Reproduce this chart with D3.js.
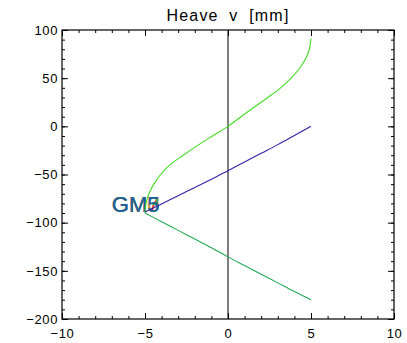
<!DOCTYPE html>
<html>
<head>
<meta charset="utf-8">
<script src="https://cdn.jsdelivr.net/npm/d3@7"></script>
<style>
  body { margin: 0; background: #fff; }
  svg { display: block; }
</style>
</head>
<body>
<div id="chart"></div>
<script>
const width = 407;
const height = 343;
const margin = { top: 30, right: 13, bottom: 24, left: 62 };

const title = 'Heave v [mm]';
const xTicks = [-10, -5, 0, 5, 10];
const yTicks = [-200, -150, -100, -50, 0, 50, 100];

// light green curve (x, y)
const upperX = [-5, -4.94, -4.76, -4.47, -4.06, -3.5, -2.7, -1.85, -0.93, 0, 0.78, 1.58, 2.4, 3.17, 3.8, 4.3, 4.67, 4.9, 5];
const upperY = [-90, -80, -70, -60, -50, -40, -30, -20, -10, 0, 10, 20, 30, 40, 50, 60, 70, 80, 91];

// blue curve
const midX = [-5, -4, -3, -2, -1, 0, 1, 2, 3, 4, 5];
const midY = [-89, -80.5, -72, -63.5, -55, -46, -37, -28, -19, -9.5, 0];

// dark green curve
const lowX = [-5, -4, -3, -2, -1, 0, 1, 2, 3, 4, 5];
const lowY = [-90, -99, -108, -117, -126, -135.5, -144.5, -153.5, -162.5, -171.5, -180];

// overlapped labels
const labels = ['GM0', 'GM7', 'GM3', 'GM5'];
const labelColors = ['#e08a2a', '#e0302a', '#2aa860', '#1f5f9f'];
const labelPos = [-7.0, -89];

const svg = d3.select('#chart').append('svg')
    .attr('width', width)
    .attr('height', height)
    .attr('font-family', 'Liberation Sans, Arial, sans-serif');

const x = d3.scaleLinear().domain([-10, 10]).range([margin.left, width - margin.right]);
const y = d3.scaleLinear().domain([-200, 100]).range([height - margin.bottom, margin.top]);

const x0 = x.range()[0], x1 = x.range()[1];
const y0 = y.range()[0], y1 = y.range()[1];

// zero line
svg.append('line')
    .attr('x1', x(0)).attr('x2', x(0))
    .attr('y1', y1).attr('y2', y0)
    .attr('stroke', '#555').attr('stroke-width', 1.5);

const line = d3.line().x(d => x(d[0])).y(d => y(d[1])).curve(d3.curveMonotoneY);
const lineX = d3.line().x(d => x(d[0])).y(d => y(d[1])).curve(d3.curveMonotoneX);

// labels (drawn under curves)
labels.forEach((t, i) => {
  svg.append('text')
      .attr('x', x(labelPos[0]))
      .attr('y', y(labelPos[1]))
      .attr('font-size', 22)
      .attr('fill', labelColors[i])
      .text(t);
});

svg.append('path')
    .datum(upperX.map((v, i) => [v, upperY[i]]))
    .attr('d', line)
    .attr('fill', 'none').attr('stroke', '#44dd22').attr('stroke-width', 1.1);

svg.append('path')
    .datum(midX.map((v, i) => [v, midY[i]]))
    .attr('d', lineX)
    .attr('fill', 'none').attr('stroke', '#3322aa').attr('stroke-width', 1.1);

svg.append('path')
    .datum(lowX.map((v, i) => [v, lowY[i]]))
    .attr('d', lineX)
    .attr('fill', 'none').attr('stroke', '#22aa55').attr('stroke-width', 1.1);

// axes box
const fmt = d => d < 0 ? '\u2212' + Math.abs(d) : String(d);
const xMinor = d3.range(-10, 11, 1);
const yMinor = d3.range(-200, 101, 10);

svg.append('g').attr('transform', `translate(0,${y0})`)
    .call(d3.axisBottom(x).tickValues(xMinor).tickSize(3).tickFormat(''))
    .call(g => g.select('.domain').remove())
    .call(g => g.selectAll('line').attr('y2', -3));
svg.append('g').attr('transform', `translate(0,${y0})`)
    .call(d3.axisBottom(x).tickValues(xTicks).tickSize(6).tickPadding(0).tickFormat(fmt))
    .call(g => g.select('.domain').remove())
    .call(g => g.selectAll('line').attr('y2', -6))
    .call(g => g.selectAll('text').attr('y', 10).attr('dy', '0.71em')
        .attr('font-size', 13).attr('letter-spacing', 0.6).attr('fill', '#000'));

svg.append('g').attr('transform', `translate(0,${y1})`)
    .call(d3.axisTop(x).tickValues(xMinor).tickSize(-3).tickFormat(''))
    .call(g => g.select('.domain').remove());
svg.append('g').attr('transform', `translate(0,${y1})`)
    .call(d3.axisTop(x).tickValues(xTicks).tickSize(-6).tickFormat(''))
    .call(g => g.select('.domain').remove());

svg.append('g').attr('transform', `translate(${x0},0)`)
    .call(d3.axisLeft(y).tickValues(yMinor).tickSize(-3).tickFormat(''))
    .call(g => g.select('.domain').remove());
svg.append('g').attr('transform', `translate(${x0},0)`)
    .call(d3.axisLeft(y).tickValues(yTicks).tickSize(-6).tickPadding(0).tickFormat(fmt))
    .call(g => g.select('.domain').remove())
    .call(g => g.selectAll('text').attr('x', -4)
        .attr('font-size', 13).attr('letter-spacing', 0.6).attr('fill', '#000'));

svg.append('g').attr('transform', `translate(${x1},0)`)
    .call(d3.axisRight(y).tickValues(yMinor).tickSize(-3).tickFormat(''))
    .call(g => g.select('.domain').remove());
svg.append('g').attr('transform', `translate(${x1},0)`)
    .call(d3.axisRight(y).tickValues(yTicks).tickSize(-6).tickFormat(''))
    .call(g => g.select('.domain').remove());

svg.selectAll('.tick line').attr('stroke', '#000');

svg.append('rect')
    .attr('x', x0).attr('y', y1)
    .attr('width', x1 - x0).attr('height', y0 - y1)
    .attr('fill', 'none').attr('stroke', '#000').attr('stroke-width', 1.2);

svg.append('text')
    .attr('x', x(0)).attr('y', 21)
    .attr('text-anchor', 'middle')
    .attr('font-size', 16)
    .attr('letter-spacing', 1.2)
    .attr('word-spacing', 5)
    .text(title);
</script>
</body>
</html>
